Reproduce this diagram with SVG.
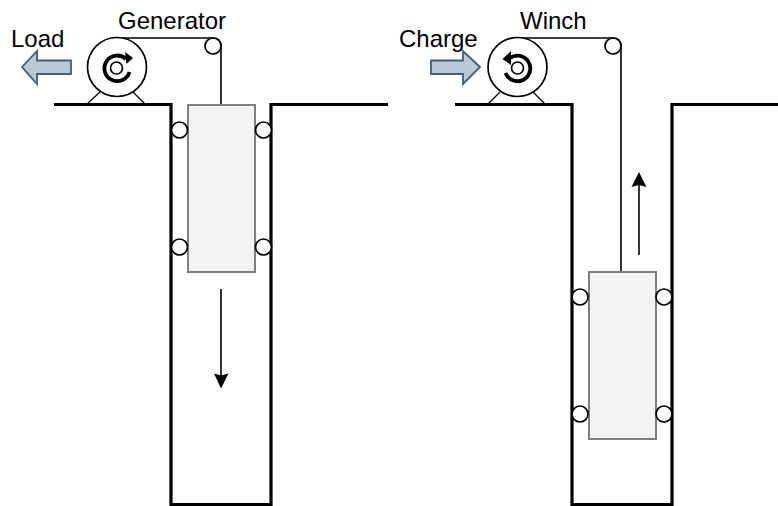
<svg xmlns="http://www.w3.org/2000/svg" width="778" height="506" viewBox="0 0 778 506">
<style>
text{font-family:"Liberation Sans",Arial,sans-serif;font-size:24px;fill:#000}
.shaft{fill:none;stroke:#000;stroke-width:3.2}
.block{fill:#f3f3f3;stroke:#7f7f7f;stroke-width:2}
.roller,.pulley,.motor,.hub{fill:#fff;stroke:#000;stroke-width:1.7}
.cable{fill:none;stroke:#000;stroke-width:1.6}
.feet{fill:none;stroke:#000;stroke-width:1.3}
.spin{fill:none;stroke:#000;stroke-width:3.8}
.big{fill:#b9c9d5;stroke:#3f5f78;stroke-width:1.8}
.move{fill:none;stroke:#000;stroke-width:1.6}
</style>
<defs>
<g id="rollers">
<circle class="roller" cx="0" cy="0" r="8"/><circle class="roller" cx="84" cy="0" r="8"/>
<circle class="roller" cx="0" cy="117" r="8"/><circle class="roller" cx="84" cy="117" r="8"/>
</g>
</defs>
<g id="connectors">
<path class="cable" d="M117 38H213Q221 38 221 46V105"/>
<path class="cable" d="M517 38H613Q621 38 621 46V272"/>
<path class="move" d="M221 289V378"/>
<path d="M214 373.500L221 388.500L228.500 373.500L221 375.500Z" fill="#000"/>
<path class="move" d="M639 255V182"/>
<path d="M631.500 187L639 172L646.500 187L639 185Z" fill="#000"/>
</g>
<g id="left-shaft">
<path class="shaft" d="M54 104.500H171V504.500H271V104.500H388"/>
</g>
<g id="right-shaft">
<path class="shaft" d="M455 104.500H572V504.500H672V104.500H778"/>
</g>
<g id="generator">
<path class="feet" d="M87 104L100 92M145 104L133 92"/>
<circle class="motor" cx="117" cy="67" r="29.500"/>
<circle class="hub" cx="116.500" cy="68" r="6"/>
<path class="spin" d="M126 59A12.800 12.800 0 1 0 129.500 72"/>
<path d="M125 52L133 58L126.500 64Z" fill="#000"/>
<text x="118" y="29">Generator</text>
</g>
<g id="winch">
<path class="feet" d="M488 104L500 92M545 104L533 92"/>
<circle class="motor" cx="517.500" cy="67" r="29.500"/>
<circle class="hub" cx="517.500" cy="68" r="6"/>
<path class="spin" d="M510 58A12.800 12.800 0 1 1 505.500 73"/>
<path d="M511 51L502.500 59L511 65Z" fill="#000"/>
<text x="520" y="29">Winch</text>
</g>
<g id="left-pulley"><circle class="pulley" cx="213" cy="46" r="8"/></g>
<g id="right-pulley"><circle class="pulley" cx="613" cy="46" r="8"/></g>
<g id="left-block">
<rect class="block" x="188" y="105" width="67" height="167"/>
<use href="#rollers" x="179.500" y="130"/>
</g>
<g id="right-block">
<rect class="block" x="589" y="272" width="67" height="167"/>
<use href="#rollers" x="580" y="297"/>
</g>
<g id="load">
<path class="big" d="M22 67L37 51V60.500H71V74H37V84Z"/>
<text x="11" y="47">Load</text>
</g>
<g id="charge">
<path class="big" d="M480 67L463 51V60.500H431V74H463V84Z"/>
<text x="399" y="47">Charge</text>
</g>
</svg>
